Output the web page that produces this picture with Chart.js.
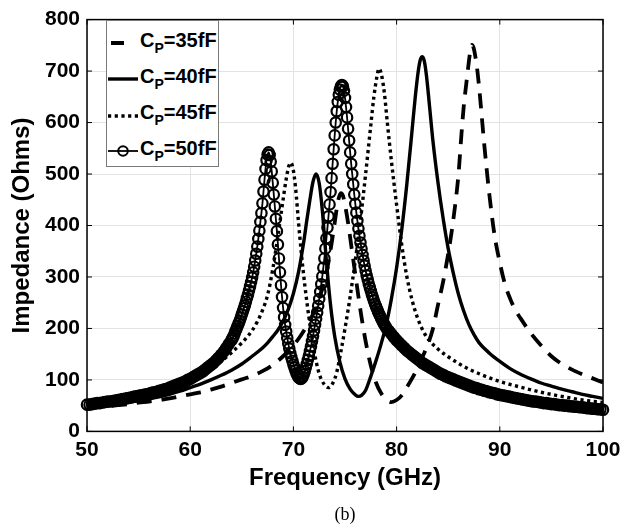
<!DOCTYPE html>
<html>
<head>
<meta charset="utf-8">
<script src="https://cdn.jsdelivr.net/npm/chart.js@4.4.1/dist/chart.umd.min.js"></script>
<style>
  body { margin: 0; background: #fff; overflow: hidden; }
  #wrap { position: relative; width: 639px; height: 532px; }
  #key {
    position: absolute; left: 106px; top: 20px; width: 113px; height: 147px;
    box-sizing: border-box; border: 1.5px solid #7a7a7a; background: #fff;
    font-family: "Liberation Sans", Arial, sans-serif; font-weight: bold; font-size: 20px; color: #000;
  }
  #key .row { position: absolute; left: 0; width: 110px; height: 36px; }
  #key svg { position: absolute; left: 0; top: 0; }
  #key span { position: absolute; left: 33px; top: 0; line-height: 20px; white-space: nowrap; }
  #key sub { font-size: 14px; position: relative; top: 6px; vertical-align: baseline; }
</style>
</head>
<body>
<div id="wrap">
  <canvas id="impChart" width="639" height="532"></canvas>
  <div id="key">
    <div class="row" style="top:9px">
      <svg width="32" height="30"><line x1="4" y1="13" x2="17" y2="13" stroke="#000" stroke-width="4"/></svg>
      <span>C<sub>P</sub>=35fF</span>
    </div>
    <div class="row" style="top:45px">
      <svg width="32" height="30"><line x1="1" y1="13" x2="31" y2="13" stroke="#000" stroke-width="3.4"/></svg>
      <span>C<sub>P</sub>=40fF</span>
    </div>
    <div class="row" style="top:81px">
      <svg width="32" height="30"><line x1="1" y1="14" x2="31" y2="14" stroke="#000" stroke-width="3.4" stroke-dasharray="3.2 3.5"/></svg>
      <span>C<sub>P</sub>=45fF</span>
    </div>
    <div class="row" style="top:117px">
      <svg width="32" height="30"><line x1="1" y1="13" x2="31" y2="13" stroke="#000" stroke-width="1.8"/><circle cx="16" cy="13" r="4.8" fill="none" stroke="#000" stroke-width="2"/></svg>
      <span>C<sub>P</sub>=50fF</span>
    </div>
  </div>
</div>
<script>
// Cp = 35 fF (dashed)
const freq35 = [50,51,52,53,54,55,56,57,58,59,60,61,62,63,64,65,66,67,68,69,70,
  70.5,71,71.5,72,72.5,73,73.5,74, 74.3,74.6,74.8,75,
  75.3,75.6,76,76.5,77,77.5,78,78.5,79,79.5,80,80.5,81,81.5,82,82.5,83,83.5,84,84.5,85,85.5,86,
  86.25,86.5,86.75,87,87.15,87.3,87.45,87.6,87.8,88,
  88.5,89,89.5,90,90.5,91,91.5,92, 93,94,95,96,97,98,99,100];
const imp35 = [45,47,49,51,53,56,58,61,64,68,72,76,81,87,94,101,108,117,129,146,167,
  180,195,212,232,258,292,340,405, 445,463,458,440,
  405,362,305,235,175,128,95,74,62,57,61,70,86,103,122,144,168,198,245,290,345,412,500,
  568,630,675,718,740,751,746,732,705,668,
  556,458,380,328,286,258,236,220, 191,167,146,131,120,111,103,95];

// Cp = 40 fF (solid)
const freq40 = [50,51,52,53,54,55,56,57,58,59,60,61,62,63,64,65,66,67,
  67.5,68,68.5,69,69.5,70,70.5,71,
  71.3,71.6,71.9,72.2,72.5,72.8,73.1,73.4,73.7,74,
  74.5,75,75.5,76,76.3,76.6,77,
  77.5,78,78.5,79,79.5,80,80.5,81,81.5,
  81.8,82.1,82.3,82.5,82.7,82.9,83.2,83.5,
  84,84.5,85,85.5,86,86.5,87,87.5,88,
  89,90,91,92,93,94,95,96,97,98,99,100];
const imp40 = [48,50,52,54,57,60,63,67,72,78,85,92,100,109,119,131,146,162,
  172,184,197,214,237,268,310,368,
  410,450,485,500,482,430,355,285,228,185,
  135,102,82,71,68,70,80,
  107,137,170,208,258,318,392,482,585,
  648,700,722,728,718,690,630,568,
  485,415,355,307,266,234,208,188,172,
  152,136,122,111,102,94,88,82,77,72,68,64];

// Cp = 45 fF (dotted)
const freq45 = [50,51,52,53,54,55,56,57,58,59,60,61,62,63,64,65,
  65.5,66,66.5,67,67.5,68,68.5,69,
  69.3,69.55,69.75,69.95,70.2,70.5,70.8,71.1,71.5,72,72.5,73,73.4,73.8,74.2,74.6,75,
  75.5,76,76.5,77,77.5,77.8,78.1,78.3,78.5,78.8,79.1,79.5,80,
  80.5,81,81.5,82,82.5,83,
  84,85,86,87,88,89,90,
  92,94,96,98,100];
const imp45 = [49,51,54,57,61,65,70,76,83,91,100,110,122,136,153,172,
  183,196,213,235,265,315,380,450,
  490,515,522,512,475,405,340,285,222,157,112,91,85,93,115,155,200,
  262,332,410,500,595,650,690,705,696,660,600,525,440,
  362,300,255,222,198,181,
  160,145,132,121,112,104,97,
  86,76,68,61,56];

// Cp = 50 fF (line with circle markers)
const freq50 = [
  50,50.25,50.5,50.75,51,51.25,51.5,51.75,52,52.25,52.5,52.75,53,53.25,53.5,53.75,
  54,54.25,54.5,54.75,55,55.25,55.5,55.75,56,56.25,56.5,56.75,57,57.25,57.5,57.75,
  58,58.25,58.5,58.75,59,59.25,59.5,59.75,60,60.25,60.5,60.75,61,61.25,61.5,61.75,
  62,62.25,62.5,62.75,63,63.25,63.5,63.75,
  64.0,64.1,64.2,64.3,64.4,64.5,64.6,64.7,64.8,64.9,
  65.0,65.1,65.2,65.3,65.4,65.5,65.6,65.7,65.8,65.9,
  66.0,66.1,66.2,66.3,66.4,66.5,66.6,66.7,66.8,66.9,
  67.0,67.1,67.2,67.3,67.4,67.5,67.6,67.7,67.8,67.9,
  68.0,68.1,68.2,68.3,68.4,68.5,68.6,68.7,68.8,68.9,
  69.0,69.1,69.2,69.3,69.4,69.5,69.6,69.7,69.8,69.9,
  70.0,70.1,70.2,70.3,70.4,70.5,70.6,70.7,70.8,70.9,
  71.0,71.1,71.2,71.3,71.4,71.5,71.6,71.7,71.8,71.9,
  72.0,72.1,72.2,72.3,72.4,72.5,72.6,72.7,72.8,72.9,
  73.0,73.1,73.2,73.3,73.4,73.5,73.6,73.7,73.8,73.9,
  74.0,74.1,74.2,74.3,74.4,74.5,74.6,74.7,74.8,74.9,
  75.0,75.1,75.2,75.3,75.4,75.5,75.6,75.7,75.8,75.9,
  76.0,76.1,76.2,76.3,76.4,76.5,76.6,76.7,76.8,76.9,
  77.0,77.1,77.2,77.3,77.4,77.5,77.6,77.7,77.8,77.9,
  78.0,78.1,78.2,78.3,78.4,78.5,78.6,78.7,78.8,78.9,
  79.0,
  79.25,79.5,79.75,80,80.25,80.5,80.75,81,81.25,81.5,81.75,82,
  82.25,82.5,82.75,83,83.25,83.5,83.75,84,84.25,84.5,84.75,85,
  85.25,85.5,85.75,86,86.25,86.5,86.75,87,87.25,87.5,87.75,88,
  88.25,88.5,88.75,89,89.25,89.5,89.75,90,90.25,90.5,90.75,91,
  91.25,91.5,91.75,92,92.25,92.5,92.75,93,93.25,93.5,93.75,94,
  94.25,94.5,94.75,95,95.25,95.5,95.75,96,96.25,96.5,96.75,97,
  97.25,97.5,97.75,98,98.25,98.5,98.75,99,99.25,99.5,99.75,100];
const imp50 = [
  52,52,53,54,55,55,56,57,58,58,59,60,61,62,63,64,
  65,66,67,68,69,70,71,72,73,75,76,77,79,80,82,83,
  85,87,89,91,93,95,97,100,102,105,108,111,114,117,121,125,
  129,133,138,143,149,155,162,170,
  177,181,185,190,195,200,205,210,215,221,
  227,233,239,245,252,259,266,274,282,290,
  299,309,320,332,345,359,374,390,407,424,
  443,466,489,510,527,538,542,537,524,505,
  483,460,437,413,389,363,336,309,284,261,
  240,222,207,194,182,171,161,152,144,137,
  130,124,118,113,109,105,103,102,103,106,
  111,117,124,131,139,147,156,165,175,185,
  196,207,219,231,244,257,271,286,301,318,
  336,355,375,396,418,441,465,492,520,548,
  575,600,622,640,654,664,670,673,670,662,
  648,630,610,588,565,542,520,500,480,460,
  442,425,409,394,380,367,355,343,332,322,
  312,303,295,287,280,273,266,260,254,248,
  243,238,233,228,224,220,216,212,208,205,
  201,
  195,189,183,177,172,167,162,157,153,149,145,141,
  137,133,130,127,124,121,118,115,112,110,107,105,
  103,101,99,97,95,93,91,89,87,85,84,82,
  81,79,78,76,75,74,72,71,70,69,68,67,
  66,65,64,63,62,61,60,59,58,58,57,56,
  55,55,54,53,53,52,51,51,50,50,49,49,
  48,48,47,47,46,45,45,44,44,43,43,42];

const pairs = (xs, ys) => xs.map((f, i) => ({ x: f, y: ys[i] }));

Chart.defaults.font.family = '"Liberation Sans", Arial, sans-serif';
Chart.defaults.color = '#000';

// box round the plot with small inward ticks on all four sides
const axisBox = {
  id: 'axisBox',
  beforeDatasetsDraw(chart) {
    const { ctx, chartArea: a, scales } = chart;
    ctx.save();
    ctx.strokeStyle = '#000';
    ctx.lineWidth = 1;
    ctx.beginPath();
    scales.x.ticks.forEach(t => {
      const px = scales.x.getPixelForValue(t.value);
      ctx.moveTo(px, a.bottom); ctx.lineTo(px, a.bottom - 5);
      ctx.moveTo(px, a.top); ctx.lineTo(px, a.top + 5);
    });
    scales.y.ticks.forEach(t => {
      const py = scales.y.getPixelForValue(t.value);
      ctx.moveTo(a.left, py); ctx.lineTo(a.left + 5, py);
      ctx.moveTo(a.right, py); ctx.lineTo(a.right - 5, py);
    });
    ctx.stroke();
    ctx.lineWidth = 1.5;
    ctx.strokeRect(a.left, a.top, a.right - a.left, a.bottom - a.top);
    ctx.restore();
  }
};

new Chart(document.getElementById('impChart'), {
  type: 'line',
  data: {
    datasets: [
      {
        label: 'CP=35fF', data: pairs(freq35, imp35), order: 4,
        borderColor: '#000', borderWidth: 3.8, borderDash: [15, 10],
        pointRadius: 0, cubicInterpolationMode: 'monotone', fill: false
      },
      {
        label: 'CP=40fF', data: pairs(freq40, imp40), order: 3,
        borderColor: '#000', borderWidth: 3.4,
        pointRadius: 0, cubicInterpolationMode: 'monotone', fill: false
      },
      {
        label: 'CP=45fF', data: pairs(freq45, imp45), order: 2,
        borderColor: '#000', borderWidth: 3.4, borderDash: [3.2, 3.5],
        pointRadius: 0, cubicInterpolationMode: 'monotone', fill: false
      },
      {
        label: 'CP=50fF', data: pairs(freq50, imp50), order: 1,
        borderColor: '#000', borderWidth: 1.8,
        // where the samples are coarse the markers merge into one thick band
        segment: { borderWidth: c => (c.p1.parsed.x - c.p0.parsed.x > 0.2 ? 11 : 1.8) },
        pointStyle: 'circle', pointRadius: 5.2, pointBorderWidth: 2.2,
        pointBorderColor: '#000', pointBackgroundColor: 'rgba(0,0,0,0)',
        cubicInterpolationMode: 'monotone', fill: false, clip: false
      }
    ]
  },
  options: {
    responsive: false,
    animation: false,
    events: [],
    layout: { padding: { left: 0, right: 36, top: 11, bottom: 0 } },
    plugins: {
      legend: { display: false },
      tooltip: { enabled: false },
      title: {
        display: true, text: '(b)', position: 'bottom', fullSize: false,
        color: '#000',
        font: { family: '"Liberation Serif", "Times New Roman", serif', size: 18, weight: 'normal' },
        padding: { top: 12, bottom: 6 }
      }
    },
    scales: {
      x: {
        type: 'linear', min: 50, max: 100,
        afterFit: s => { s.height = 61; },
        ticks: { stepSize: 10, padding: 6, color: '#000', font: { size: 21, weight: 'bold' } },
        grid: { color: '#e3e3e3', drawTicks: false },
        border: { display: false },
        title: { display: true, text: 'Frequency (GHz)', color: '#000',
                 font: { size: 24, weight: 'bold' }, padding: { top: 0, bottom: 0 } }
      },
      y: {
        min: 0, max: 800,
        afterFit: s => { s.width = 87; },
        ticks: { stepSize: 100, padding: 7, color: '#000', font: { size: 21, weight: 'bold' } },
        grid: { color: '#e3e3e3', drawTicks: false },
        border: { display: false },
        title: { display: true, text: 'Impedance (Ohms)', color: '#000',
                 font: { size: 24, weight: 'bold' }, padding: { top: 8, bottom: 0 } }
      }
    }
  },
  plugins: [axisBox]
});
</script>
</body>
</html>
